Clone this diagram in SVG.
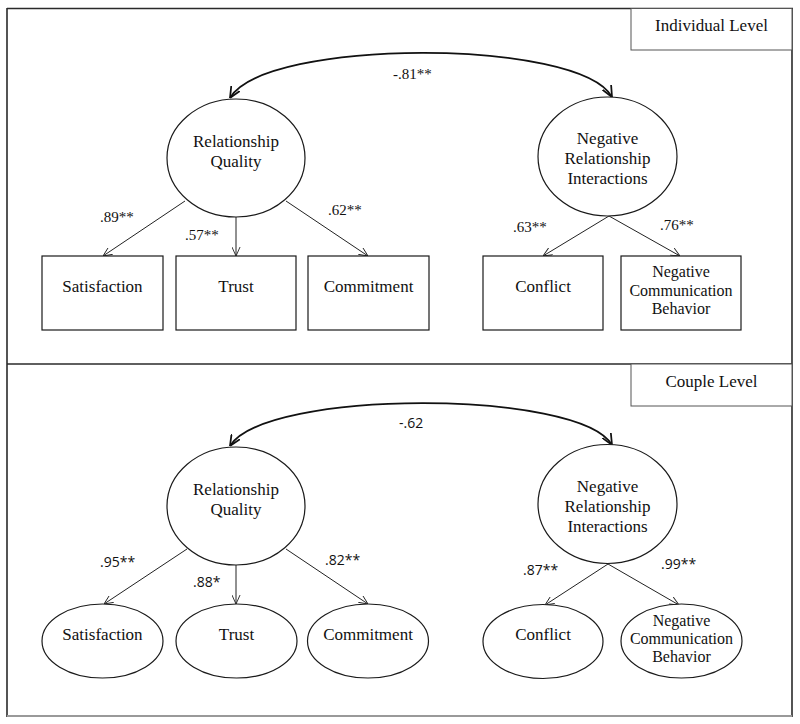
<svg xmlns="http://www.w3.org/2000/svg" width="800" height="724" viewBox="0 0 800 724">
<style>
.frame{stroke:#2a2a2a;stroke-width:1.6;fill:none}
.lbox{stroke:#555;stroke-width:1;fill:#fff}
.node{stroke:#1a1a1a;stroke-width:1.2;fill:#fff}
.t{font-family:'Times New Roman','Liberation Serif',Tinos,'DejaVu Serif',serif;font-size:17px;fill:#111;text-anchor:middle}
.ts{font-family:'Times New Roman','Liberation Serif',Tinos,'DejaVu Serif',serif;font-size:16px;fill:#111;text-anchor:middle}
.c1{font-family:'Times New Roman','Liberation Serif',Tinos,'DejaVu Serif',serif;font-size:15px;fill:#111}
.c2{font-family:'Open Sans','Liberation Sans',sans-serif;font-size:14px;fill:#111}
.edge{stroke:#222;stroke-width:1;fill:none;marker-end:url(#arr)}
.cov{stroke:#111;stroke-width:1.8;fill:none;marker-start:url(#arrB);marker-end:url(#arrB)}
</style>
<defs>
<marker id="arr" viewBox="0 0 10 10" refX="10" refY="5" markerWidth="9" markerHeight="9" markerUnits="userSpaceOnUse" orient="auto">
<path d="M0,0.5 L10,5 L0,9.5" fill="none" stroke="#222" stroke-width="1"/>
</marker>
<marker id="arrB" viewBox="0 0 10 10" refX="10" refY="5" markerWidth="11" markerHeight="11" markerUnits="userSpaceOnUse" orient="auto-start-reverse">
<path d="M0,0.5 L10,5 L0,9.5" fill="none" stroke="#111" stroke-width="1.6"/>
</marker>
</defs>
<rect width="800" height="724" fill="#fff"/>

<g id="frame">
<line class="frame" x1="7" y1="8.5" x2="793" y2="8.5"/>
<line class="frame" x1="7" y1="8" x2="7" y2="717"/>
<line class="frame" x1="792" y1="8" x2="792" y2="717"/>
<line class="frame" x1="7" y1="364" x2="792" y2="364"/>
<line x1="7" y1="716" x2="792" y2="716" stroke="#999" stroke-width="2"/>
</g>

<g id="label-individual">
<rect class="lbox" x="631" y="8.5" width="161" height="41.5"/>
<text class="t" x="711.5" y="31">Individual Level</text>
</g>
<g id="label-couple">
<rect class="lbox" x="631" y="364" width="161" height="42"/>
<text class="t" x="711.5" y="387">Couple Level</text>
</g>

<g id="connectors">
<path class="cov" d="M230,98 C265,38 580,38 612,97"/>
<line class="edge" x1="185" y1="201" x2="103" y2="256"/>
<line class="edge" x1="236" y1="217" x2="236" y2="256"/>
<line class="edge" x1="286" y1="201" x2="368" y2="256"/>
<line class="edge" x1="609" y1="216" x2="543" y2="256"/>
<line class="edge" x1="609" y1="216" x2="680" y2="256"/>
<path class="cov" d="M230,446 C265,389 580,389 612,445"/>
<line class="edge" x1="187" y1="549" x2="104" y2="604"/>
<line class="edge" x1="236" y1="565" x2="236" y2="604"/>
<line class="edge" x1="286" y1="549" x2="368" y2="604"/>
<line class="edge" x1="608" y1="564" x2="545" y2="605"/>
<line class="edge" x1="608" y1="564" x2="679" y2="605"/>
</g>

<g id="coef-labels">
<text class="c1" x="393" y="79">-.81**</text>
<text class="c1" x="100" y="222">.89**</text>
<text class="c1" x="185" y="240">.57**</text>
<text class="c1" x="328" y="215">.62**</text>
<text class="c1" x="513" y="232">.63**</text>
<text class="c1" x="660" y="230">.76**</text>
<text class="c2" x="399" y="428">-.62</text>
<text class="c2" x="100" y="567">.95**</text>
<text class="c2" x="193" y="587">.88*</text>
<text class="c2" x="325" y="565">.82**</text>
<text class="c2" x="523" y="575">.87**</text>
<text class="c2" x="661" y="569">.99**</text>
</g>

<g id="ind-rq">
<ellipse class="node" cx="236" cy="158" rx="69" ry="59"/>
<text class="t" x="236" y="147">Relationship</text>
<text class="t" x="236" y="167">Quality</text>
</g>
<g id="ind-nri">
<ellipse class="node" cx="607.5" cy="156.5" rx="69.5" ry="59.5"/>
<text class="t" x="607.5" y="144">Negative</text>
<text class="t" x="607.5" y="164">Relationship</text>
<text class="t" x="607.5" y="184">Interactions</text>
</g>
<g id="ind-satisfaction">
<rect class="node" x="42" y="256" width="121" height="74"/>
<text class="t" x="102.5" y="292">Satisfaction</text>
</g>
<g id="ind-trust">
<rect class="node" x="176" y="256" width="120" height="74"/>
<text class="t" x="236" y="292">Trust</text>
</g>
<g id="ind-commitment">
<rect class="node" x="308" y="256" width="121" height="74"/>
<text class="t" x="368.5" y="292">Commitment</text>
</g>
<g id="ind-conflict">
<rect class="node" x="483" y="256" width="120" height="74"/>
<text class="t" x="543" y="292">Conflict</text>
</g>
<g id="ind-ncb">
<rect class="node" x="621" y="256" width="120" height="74"/>
<text class="ts" x="681" y="277">Negative</text>
<text class="ts" x="681" y="296">Communication</text>
<text class="ts" x="681" y="314">Behavior</text>
</g>

<g id="cpl-rq">
<ellipse class="node" cx="236" cy="506" rx="69" ry="59"/>
<text class="t" x="236" y="495">Relationship</text>
<text class="t" x="236" y="515">Quality</text>
</g>
<g id="cpl-nri">
<ellipse class="node" cx="607.5" cy="504" rx="69.5" ry="59.5"/>
<text class="t" x="607.5" y="492">Negative</text>
<text class="t" x="607.5" y="512">Relationship</text>
<text class="t" x="607.5" y="532">Interactions</text>
</g>
<g id="cpl-satisfaction">
<ellipse class="node" cx="102.5" cy="641" rx="60.5" ry="37"/>
<text class="t" x="102.5" y="640">Satisfaction</text>
</g>
<g id="cpl-trust">
<ellipse class="node" cx="236.5" cy="641" rx="60.5" ry="37"/>
<text class="t" x="236.5" y="640">Trust</text>
</g>
<g id="cpl-commitment">
<ellipse class="node" cx="368" cy="641" rx="60.5" ry="37"/>
<text class="t" x="368" y="640">Commitment</text>
</g>
<g id="cpl-conflict">
<ellipse class="node" cx="543" cy="641.5" rx="60" ry="37"/>
<text class="t" x="543" y="640">Conflict</text>
</g>
<g id="cpl-ncb">
<ellipse class="node" cx="681.5" cy="641" rx="60.5" ry="37"/>
<text class="ts" x="681.5" y="626">Negative</text>
<text class="ts" x="681.5" y="644">Communication</text>
<text class="ts" x="681.5" y="662">Behavior</text>
</g>
</svg>
